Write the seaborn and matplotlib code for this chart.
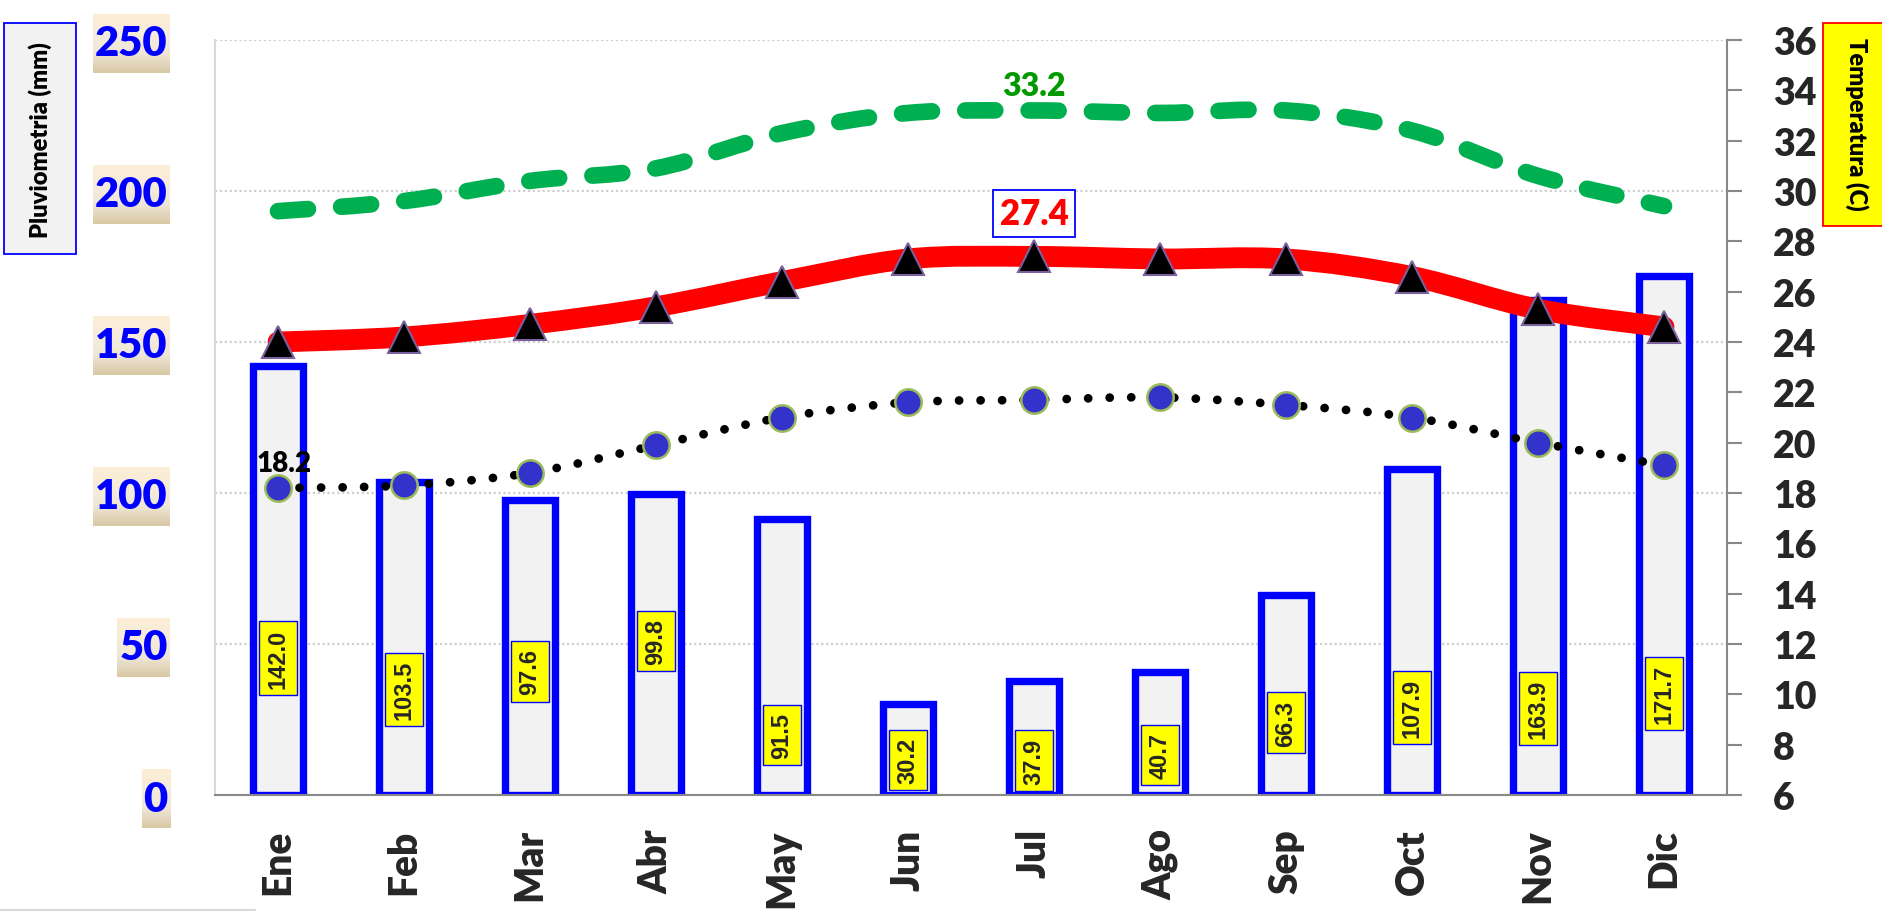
import numpy as np
import matplotlib
matplotlib.use("Agg")
import matplotlib.pyplot as plt
from matplotlib.path import Path
from matplotlib.patches import PathPatch, Rectangle
from matplotlib.lines import Line2D
from matplotlib.colors import LinearSegmentedColormap
import seaborn as sns

# ---------------- data ----------------
months = ["Ene", "Feb", "Mar", "Abr", "May", "Jun", "Jul", "Ago", "Sep", "Oct", "Nov", "Dic"]
rain_mm = [142.0, 103.5, 97.6, 99.8, 91.5, 30.2, 37.9, 40.7, 66.3, 107.9, 163.9, 171.7]
temp_max = [29.2, 29.6, 30.4, 30.9, 32.3, 33.1, 33.2, 33.1, 33.2, 32.4, 30.6, 29.4]
temp_mean = [24.0, 24.2, 24.7, 25.4, 26.4, 27.3, 27.4, 27.3, 27.3, 26.6, 25.3, 24.6]
temp_min = [18.2, 18.3, 18.8, 19.9, 21.0, 21.6, 21.7, 21.8, 21.5, 21.0, 20.0, 19.1]
rain_ticks = [0, 50, 100, 150, 200, 250]
temp_ticks = list(range(6, 37, 2))

# label placement (layout, in mm of left axis)
rain_label_y = [45.3, 35.0, 40.9, 51.0, 20.0, 11.6, 11.4, 13.3, 24.0, 29.0, 28.6, 33.5]

# ---------------- style ----------------
sns.set_style("white")
plt.rcParams["font.family"] = ["Lato", "DejaVu Sans"]
WT = "heavy"

W, H = 1883, 912
fig = plt.figure(figsize=(W / 100, H / 100), dpi=100)
L, R, T, B = 215, 1727, 41, 796
ax = fig.add_axes([L / W, 1 - B / H, (R - L) / W, (B - T) / H])

x = np.arange(len(months))

sns.barplot(x=months, y=rain_mm, ax=ax, color="#F2F2F2", saturation=1,
            edgecolor="#0000FF", linewidth=5.3, width=0.40)

ax.set_xlim(-0.5, 11.5)
ax.set_ylim(0, 250)
ax.set_yticks(rain_ticks)
ax.set_yticklabels([str(t) for t in rain_ticks])
ax.set_xticks(x)
ax.set_xticklabels(months, rotation=90)
ax.tick_params(axis="x", length=0, pad=24, labelsize=28)
ax.tick_params(axis="y", length=0, pad=34, labelsize=30, labelcolor="#0000FF")
for lbl in ax.get_xticklabels():
    lbl.set_fontweight(WT)
    lbl.set_va("top")
for lbl in ax.get_yticklabels():
    lbl.set_fontweight(WT)
ax.set_xlabel("")
ax.set_ylabel("")
ax.yaxis.grid(True, color="#CFCFCF", linestyle=(0, (1, 1.2)), linewidth=1.6)
ax.xaxis.grid(False)
ax.set_axisbelow(True)
for s in ["top", "right"]:
    ax.spines[s].set_visible(False)
ax.spines["left"].set_color("#D9D9D9")
ax.spines["left"].set_linewidth(1.5)
ax.spines["bottom"].set_color("#898989")
ax.spines["bottom"].set_linewidth(1.5)

for i, v in enumerate(rain_mm):
    ax.text(i, rain_label_y[i], f"{v:.1f}", rotation=90, ha="center", va="center",
            fontsize=17, fontweight="bold", family=["Liberation Sans"], zorder=6,
            bbox=dict(boxstyle="square,pad=0.3", fc="#FFFF00", ec="#0000FF", lw=1))

# ---------------- temperature axis ----------------
ax2 = ax.twinx()
ax2.set_ylim(6, 36)
ax2.set_yticks(temp_ticks)
ax2.set_yticklabels([str(t) for t in temp_ticks])
ax2.tick_params(axis="y", direction="out", length=11, width=1.5, color="#888888",
                pad=22, labelsize=27)
for lbl in ax2.get_yticklabels():
    lbl.set_fontweight(WT)
for s in ["top", "left", "bottom"]:
    ax2.spines[s].set_visible(False)
ax2.spines["right"].set_color("#888888")
ax2.spines["right"].set_linewidth(1.5)
ax2.grid(False)


def smooth_path(xs, ys):
    pts = np.column_stack([xs, ys]).astype(float)
    n = len(pts)
    verts = [pts[0]]
    codes = [Path.MOVETO]
    for i in range(n - 1):
        p0 = pts[i - 1] if i > 0 else pts[i]
        p1 = pts[i]
        p2 = pts[i + 1]
        p3 = pts[i + 2] if i + 2 < n else pts[i + 1]
        c1 = p1 + (p2 - p0) / 6.0
        c2 = p2 - (p3 - p1) / 6.0
        verts += [c1, c2, p2]
        codes += [Path.CURVE4] * 3
    return Path(verts, codes)


# max temperature: green dashed smooth
ax2.add_patch(PathPatch(smooth_path(x, temp_max), fc="none", ec="#00B050", lw=12,
                        linestyle=(0, (1.8, 2.0)), capstyle="round", joinstyle="round", zorder=3))
# min temperature: black dotted smooth
ax2.add_patch(PathPatch(smooth_path(x, temp_min), fc="none", ec="black", lw=6.3,
                        linestyle=(0, (0.01, 2.45)), capstyle="round", joinstyle="round", zorder=3))
# mean temperature: red thick smooth
ax2.add_patch(PathPatch(smooth_path(x, temp_mean), fc="none", ec="#FF0000", lw=15,
                        capstyle="round", joinstyle="round", zorder=4))

ax2.plot(x, temp_mean, linestyle="none", marker="^", markersize=23,
         mfc="black", mec="#7A619E", mew=1.5, zorder=5)
ax2.plot(x, temp_min, linestyle="none", marker="o", markersize=19,
         mfc="#3333CC", mec="#9BBB59", mew=1.8, zorder=5)

# annotations
jmax = int(np.argmax(temp_max))
ax2.annotate(f"{temp_max[jmax]:.1f}", (x[jmax], temp_max[jmax]), xytext=(0, 18),
             textcoords="offset points", ha="center", va="center", color="#009A00",
             fontsize=23, fontweight=WT, zorder=7)
jmean = int(np.argmax(temp_mean))
ax2.annotate(f"{temp_mean[jmean]:.1f}", (x[jmean], temp_mean[jmean]), xytext=(0, 31),
             textcoords="offset points", ha="center", va="center", color="#FF0000",
             fontsize=25, fontweight=WT, zorder=7,
             bbox=dict(boxstyle="square,pad=0.2", fc="white", ec="#0000FF", lw=1.3))
jmin = int(np.argmin(temp_min))
ax2.annotate(f"{temp_min[jmin]:.1f}", (x[jmin], temp_min[jmin]), xytext=(4, 18),
             textcoords="offset points", ha="center", va="center", color="black",
             fontsize=20, fontweight=WT, zorder=7)

# ---------------- axis title boxes ----------------
fig.patches.append(Rectangle((4 / W, 1 - 255 / H), 72 / W, 231 / H, transform=fig.transFigure,
                             fc="#F2F2F2", ec="#0000FF", lw=1.3))
fig.text(40 / W, 1 - 140 / H, "Pluviometria (mm)", rotation=90, ha="center", va="center",
         fontsize=17, fontweight=WT, color="black")
fig.patches.append(Rectangle((1823 / W, 1 - 227 / H), 62 / W, 203 / H, transform=fig.transFigure,
                             fc="#FFFF00", ec="#FF0000", lw=1.3))
fig.text(1857 / W, 1 - 124 / H, "Temperatura (C)", rotation=270, ha="center", va="center",
         fontsize=17, fontweight=WT, color="black")
fig.lines.append(Line2D([0, 255 / W], [1 / H, 1 / H], transform=fig.transFigure,
                        color="#D9D9D9", lw=1.5))

# gradient backgrounds behind the left tick labels
grad = LinearSegmentedColormap.from_list("tan", ["#D8C8A4", "#EEE6D6", "#F5ECDC", "#FDEED6"])
fig.canvas.draw()
renderer = fig.canvas.get_renderer()
for lbl in ax.get_yticklabels():
    bb = lbl.get_window_extent(renderer)
    x0, x1 = bb.x0 - 2, bb.x1 + 2
    yc = 0.5 * (bb.y0 + bb.y1)
    y0, y1 = yc - 29.5, yc + 29.5
    gax = fig.add_axes([x0 / W, y0 / H, (x1 - x0) / W, (y1 - y0) / H], zorder=-1)
    gax.imshow(np.linspace(0, 1, 64).reshape(-1, 1), aspect="auto", cmap=grad,
               origin="lower", extent=(0, 1, 0, 1))
    gax.set_axis_off()

fig.savefig("out.png", dpi=100)
